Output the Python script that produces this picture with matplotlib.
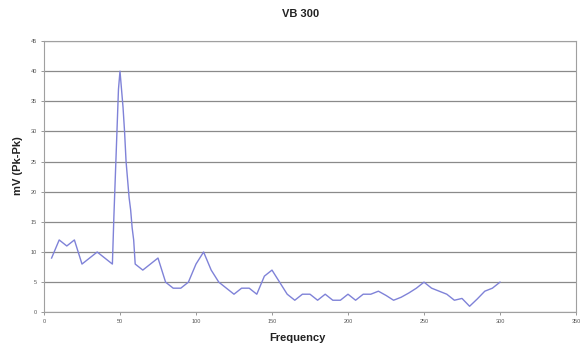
import matplotlib
matplotlib.use("Agg")
import matplotlib.pyplot as plt

plt.rcParams['font.family'] = ['Liberation Sans', 'DejaVu Sans']

freq = [5, 10, 15, 20, 25, 30, 35, 40, 45, 46, 47, 48, 49, 50, 51, 52, 53, 54, 55,
        56, 57, 58, 59, 60, 65, 70, 75, 80, 85, 90, 95, 100, 105, 110, 115, 120,
        125, 130, 135, 140, 145, 150, 155, 160, 165, 170, 175, 180, 185, 190, 195,
        200, 205, 210, 215, 220, 225, 230, 235, 240, 245, 250, 255, 260, 265, 270,
        275, 280, 285, 290, 295, 300]
mv = [9, 12, 11, 12, 8, 9, 10, 9, 8, 16, 23, 30, 37, 40, 37, 34, 30, 25, 22,
      19, 17, 14, 12, 8, 7, 8, 9, 5, 4, 4, 5, 8, 10, 7, 5, 4,
      3, 4, 4, 3, 6, 7, 5, 3, 2, 3, 3, 2, 3, 2, 2,
      3, 2, 3, 3, 3.5, 2.8, 2, 2.5, 3.2, 4, 5, 4, 3.5, 3, 2,
      2.3, 1, 2.2, 3.5, 4, 5]

xticks = [0, 50, 100, 150, 200, 250, 300, 350]
yticks = [0, 5, 10, 15, 20, 25, 30, 35, 40, 45]

fig = plt.figure(figsize=(5.85, 3.52), dpi=100)
ax = fig.add_axes([0.0752, 0.1128, 0.9094, 0.7707])
ax.plot(freq, mv, color='#7f82d8', linewidth=1.0)

ax.set_xlim(0, 350)
ax.set_ylim(0, 45)
ax.set_xticks(xticks)
ax.set_yticks(yticks)
ax.set_xticklabels([str(t) for t in xticks], fontsize=4, color='#555555')
ax.set_yticklabels([str(t) for t in yticks], fontsize=4, color='#555555')
ax.tick_params(axis='both', length=2, width=0.6, color='#888888', pad=3)
ax.yaxis.grid(True, color='#8a8a8a', linewidth=0.9)
ax.set_axisbelow(True)
for s in ax.spines.values():
    s.set_color('#a0a0a0')
    s.set_linewidth(0.8)

fig.text(0.513, 0.96, 'VB 300', ha='center', va='center', fontsize=8, fontweight='bold', color='#222222')
fig.text(0.508, 0.04, 'Frequency', ha='center', va='center', fontsize=8, fontweight='bold', color='#222222')
fig.text(0.031, 0.53, 'mV (Pk-Pk)', ha='center', va='center', rotation=90, fontsize=8, fontweight='bold', color='#222222')

fig.savefig('out.png', dpi=100)
